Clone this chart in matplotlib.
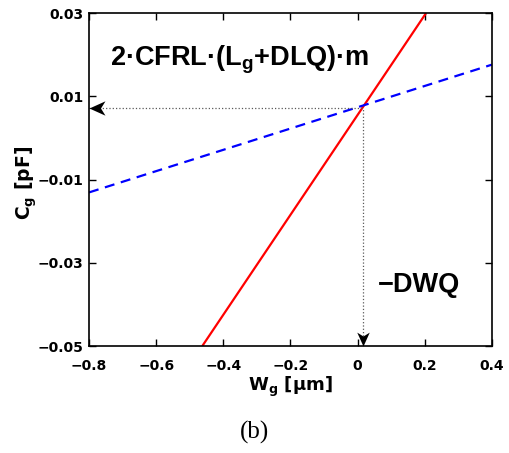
import matplotlib.pyplot as plt
from matplotlib.path import Path

plt.rcParams['font.family'] = ['DejaVu Sans']
plt.rcParams['font.weight'] = 'bold'
plt.rcParams['mathtext.fontset'] = 'custom'
plt.rcParams['mathtext.rm'] = 'DejaVu Sans:bold'
plt.rcParams['mathtext.it'] = 'DejaVu Sans:bold'
plt.rcParams['mathtext.bf'] = 'DejaVu Sans:bold'
plt.rcParams['mathtext.default'] = 'rm'

# Gate capacitance vs gate width, two bias lines
red_w = [-0.4625, 0.204]
red_c = [-0.05, 0.03]
blue_w = [-0.8, 0.4]
blue_c = [-0.0131, 0.0176]

# crossing point (intercepts read on each axis)
cross_w = 0.015
cross_c = 0.0073

x_ticks = [-0.8, -0.6, -0.4, -0.2, 0, 0.2, 0.4]
x_labels = ['\u22120.8', '\u22120.6', '\u22120.4', '\u22120.2', '0', '0.2', '0.4']
y_ticks = [-0.05, -0.03, -0.01, 0.01, 0.03]
y_labels = ['\u22120.05', '\u22120.03', '\u22120.01', '0.01', '0.03']

fig = plt.figure(figsize=(5.1, 4.53), dpi=100)
ax = fig.add_axes([0.1745, 0.2362, 0.790, 0.735])

ax.plot(red_w, red_c, color='red', lw=1.6, solid_capstyle='butt')
ax.plot(blue_w, blue_c, color='blue', lw=1.6, dashes=(4.5, 3))

# dotted guides from the crossing to both axes
ax.plot([x_ticks[0], cross_w], [cross_c, cross_c], ls=':', color='0.35', lw=0.9)
ax.plot([cross_w, cross_w], [y_ticks[0], cross_c], ls=':', color='0.35', lw=0.9)

# chevron arrow heads, tip at the marker origin
left_head = Path([(0, 0), (1, 0.45), (0.72, 0), (1, -0.45), (0, 0)],
                 [Path.MOVETO, Path.LINETO, Path.LINETO, Path.LINETO, Path.CLOSEPOLY])
down_head = Path([(0, 0), (0.45, 1), (0, 0.72), (-0.45, 1), (0, 0)],
                 [Path.MOVETO, Path.LINETO, Path.LINETO, Path.LINETO, Path.CLOSEPOLY])
ax.plot([x_ticks[0]], [cross_c], marker=left_head, ms=23, color='black',
        mew=0, clip_on=False, zorder=5)
ax.plot([cross_w], [y_ticks[0]], marker=down_head, ms=20, color='black',
        mew=0, clip_on=False, zorder=5)

ann_font = dict(family='Liberation Sans', fontweight='bold', fontsize=19.5,
                va='center', ha='left')
ax.text(-0.7375, 0.0187, '2\u00b7CFRL\u00b7(L$_\\mathregular{g}$+DLQ)\u00b7m',
        **ann_font)
ax.text(0.06, -0.0354, '\u2212DWQ', **ann_font)

ax.set_xlim(-0.8, 0.4)
ax.set_ylim(-0.05, 0.03)
ax.set_xticks(x_ticks)
ax.set_xticklabels(x_labels)
ax.set_yticks(y_ticks)
ax.set_yticklabels(y_labels)
ax.tick_params(direction='in', length=5, width=1, top=True, right=True,
               labelsize=10)
ax.tick_params(axis='x', pad=9)
ax.tick_params(axis='y', pad=4)
for s in ax.spines.values():
    s.set_linewidth(1.2)

ax.set_xlabel('W$_g$ [\u03bcm]', fontsize=13, fontweight='bold')
ax.set_ylabel('C$_g$ [pF]', fontsize=13.5, fontweight='bold')
ax.xaxis.set_label_coords(0.5, -0.085)
ax.yaxis.set_label_coords(-0.124, 0.491)

fig.text(0.5, 0.046, '(b)', fontsize=18, fontweight='normal',
         family='Liberation Serif', ha='center', va='center')

fig.savefig('out.png', dpi=100)
